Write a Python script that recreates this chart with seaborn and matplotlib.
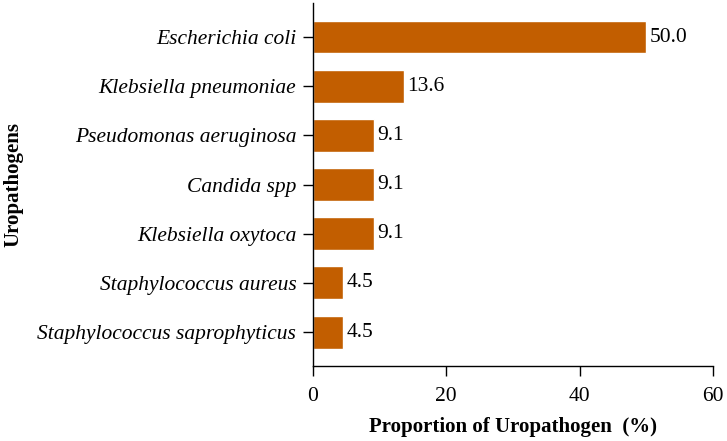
import pandas as pd
import matplotlib
matplotlib.use("Agg")
import matplotlib.pyplot as plt
import seaborn as sns

# Données du graphique
pathogenes = ["Escherichia coli", "Klebsiella pneumoniae", "Pseudomonas aeruginosa",
              "Candida spp", "Klebsiella oxytoca", "Staphylococcus aureus",
              "Staphylococcus saprophyticus"]
proportions = [50.0, 13.6, 9.1, 9.1, 9.1, 4.5, 4.5]
ticks_x = [0, 20, 40, 60]

df = pd.DataFrame({"Uropathogens": pathogenes, "Proportion": proportions})

sns.set_style("ticks")
plt.rcParams['font.family'] = ['Liberation Serif', 'DejaVu Serif']
plt.rcParams['text.color'] = 'black'
plt.rcParams['xtick.color'] = 'black'
plt.rcParams['ytick.color'] = 'black'
plt.rcParams['axes.labelcolor'] = 'black'

fig = plt.figure(figsize=(7.27, 4.41), dpi=100)
ax = fig.add_axes([0.4305, 0.170, 0.5502, 0.823])

sns.barplot(data=df, x="Proportion", y="Uropathogens", color="#C25E00",
            saturation=1, width=0.67, ax=ax)

# Étiquettes de valeur au bout des barres
for i, v in enumerate(proportions):
    ax.text(v + 0.5, i, f"{v:.1f}", va="center", ha="left", fontsize=15.5)

ax.set_xlim(0, 60)
ax.set_ylim(6.69, -0.69)
ax.set_xticks(ticks_x)
ax.set_xticklabels([str(t) for t in ticks_x], fontsize=15.5)
ax.set_yticklabels(pathogenes, fontsize=15.5, style="italic")
ax.tick_params(axis="both", direction="out", length=7, width=1, color="black", pad=5)
ax.tick_params(axis="x", pad=8)
ax.set_xlabel("Proportion of Uropathogen  (%)", fontsize=15, fontweight="bold", labelpad=8)
ax.set_ylabel("Uropathogens", fontsize=15, fontweight="bold")
ax.yaxis.set_label_coords(-0.725, 0.5)
sns.despine(ax=ax)
for s in ["left", "bottom"]:
    ax.spines[s].set_linewidth(1)
    ax.spines[s].set_color("black")

fig.savefig("out.png", dpi=100)
